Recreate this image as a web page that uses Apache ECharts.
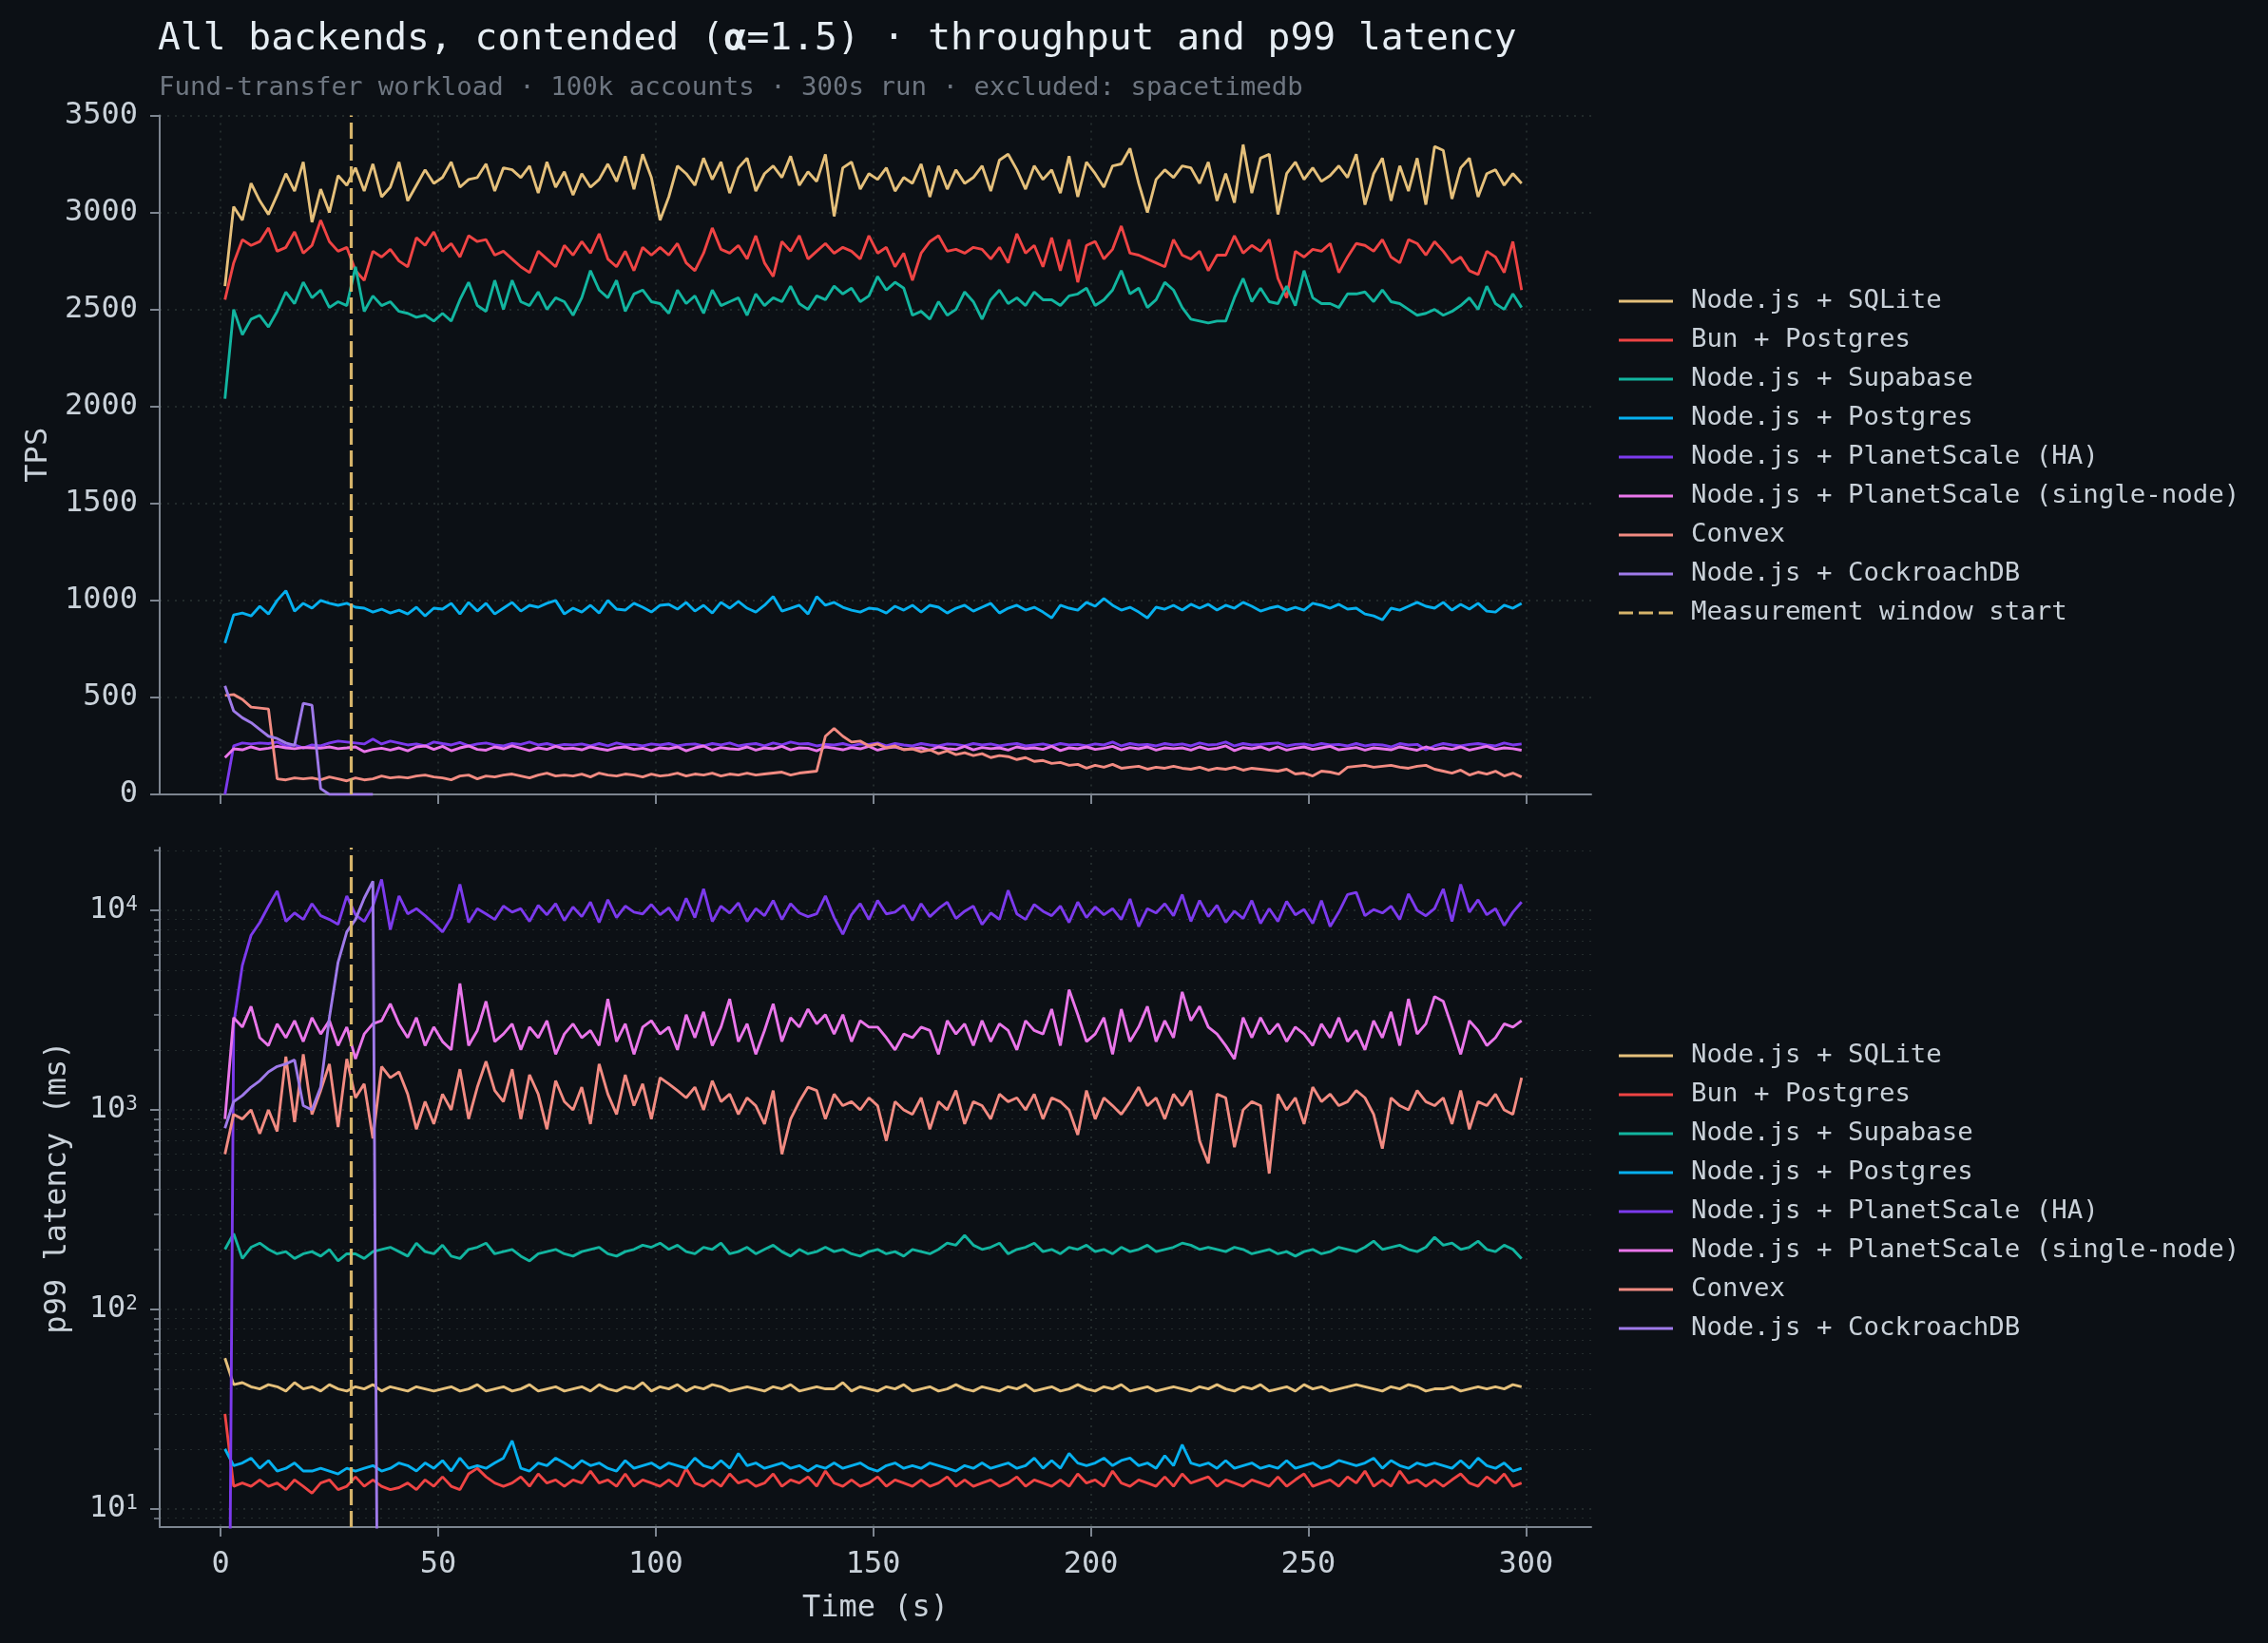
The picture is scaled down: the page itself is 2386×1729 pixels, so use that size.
<!DOCTYPE html>
<html lang="en">
<head>
  <meta charset="UTF-8">
  <title>All backends, contended - throughput and p99 latency</title>
  <script src="https://cdn.jsdelivr.net/npm/echarts@6/dist/echarts.min.js"></script>
  <style>
    html, body { margin: 0; padding: 0; background: #0c1015; }
    #main { width: 2386px; height: 1729px; }
  </style>
</head>
<body>
  <div id="main"></div>

  <script>
    // one sample every 2 s, first sample at t = 1 s
    var sampleStart = 1;
    var sampleStep = 2;
    var windowStart = 30;

    var backends = [
      'Node.js + SQLite',
      'Bun + Postgres',
      'Node.js + Supabase',
      'Node.js + Postgres',
      'Node.js + PlanetScale (HA)',
      'Node.js + PlanetScale (single-node)',
      'Convex',
      'Node.js + CockroachDB'
    ];
    var windowLabel = 'Measurement window start';

    var timeTicks = [0, 50, 100, 150, 200, 250, 300];
    var latencyTicks = [10, 100, 1000, 10000];
    var latencyMinorTicks = [9, 20, 30, 40, 50, 60, 70, 80, 90,
      200, 300, 400, 500, 600, 700, 800, 900,
      2000, 3000, 4000, 5000, 6000, 7000, 8000, 9000, 20000];

    // ---- throughput (TPS) ----
    var tpsSqlite = [
      2620, 3030, 2960, 3150, 3060, 2990, 3090, 3200, 3110, 3260,
      2950, 3120, 3000, 3190, 3140, 3230, 3110, 3250, 3080, 3130,
      3260, 3060, 3140, 3220, 3150, 3180, 3260, 3130, 3170, 3180,
      3250, 3110, 3230, 3220, 3180, 3240, 3100, 3260, 3130, 3210,
      3090, 3200, 3130, 3170, 3250, 3160, 3290, 3120, 3300, 3180,
      2960, 3080, 3240, 3200, 3140, 3280, 3170, 3260, 3100, 3230,
      3280, 3110, 3200, 3240, 3180, 3290, 3140, 3210, 3160, 3300,
      2980, 3230, 3260, 3120, 3200, 3170, 3230, 3110, 3180, 3150,
      3250, 3080, 3240, 3120, 3220, 3150, 3180, 3240, 3110, 3270,
      3300, 3220, 3120, 3240, 3170, 3220, 3100, 3290, 3080, 3260,
      3200, 3130, 3240, 3250, 3330, 3150, 3000, 3170, 3220, 3180,
      3240, 3230, 3150, 3260, 3060, 3200, 3050, 3350, 3100, 3280,
      3300, 2990, 3200, 3260, 3170, 3230, 3160, 3190, 3240, 3180,
      3300, 3040, 3200, 3280, 3060, 3240, 3110, 3280, 3040, 3340,
      3320, 3070, 3230, 3280, 3080, 3200, 3220, 3140, 3200, 3150
    ];
    var tpsBun = [
      2550, 2740, 2860, 2830, 2850, 2920, 2800, 2820, 2900, 2790,
      2830, 2960, 2850, 2800, 2820, 2700, 2650, 2800, 2770, 2810,
      2750, 2720, 2870, 2830, 2900, 2800, 2840, 2770, 2880, 2850,
      2860, 2780, 2800, 2760, 2720, 2690, 2800, 2760, 2720, 2830,
      2780, 2850, 2790, 2890, 2760, 2720, 2800, 2700, 2820, 2780,
      2820, 2780, 2840, 2740, 2700, 2790, 2920, 2810, 2790, 2830,
      2760, 2880, 2740, 2670, 2850, 2800, 2880, 2760, 2800, 2840,
      2790, 2820, 2800, 2760, 2880, 2790, 2820, 2720, 2790, 2650,
      2790, 2850, 2880, 2800, 2810, 2790, 2820, 2810, 2760, 2820,
      2740, 2890, 2790, 2830, 2720, 2870, 2700, 2860, 2640, 2830,
      2850, 2760, 2810, 2930, 2790, 2780, 2760, 2740, 2720, 2860,
      2780, 2760, 2800, 2700, 2780, 2780, 2880, 2790, 2830, 2800,
      2860, 2660, 2560, 2800, 2770, 2810, 2800, 2840, 2690, 2770,
      2840, 2830, 2800, 2860, 2770, 2740, 2860, 2840, 2780, 2850,
      2800, 2740, 2770, 2700, 2680, 2800, 2770, 2690, 2850, 2600
    ];
    var tpsSupabase = [
      2040, 2500, 2370, 2450, 2470, 2410, 2490, 2590, 2530, 2640,
      2560, 2600, 2510, 2540, 2520, 2720, 2490, 2570, 2520, 2540,
      2490, 2480, 2460, 2470, 2440, 2480, 2440, 2550, 2640, 2520,
      2490, 2650, 2500, 2650, 2540, 2520, 2590, 2500, 2560, 2540,
      2470, 2560, 2700, 2600, 2560, 2650, 2490, 2580, 2600, 2540,
      2530, 2480, 2600, 2530, 2570, 2480, 2600, 2520, 2540, 2560,
      2470, 2580, 2520, 2560, 2540, 2620, 2530, 2500, 2570, 2550,
      2620, 2580, 2610, 2540, 2570, 2670, 2600, 2640, 2610, 2470,
      2490, 2450, 2540, 2470, 2500, 2590, 2540, 2450, 2550, 2600,
      2530, 2560, 2520, 2590, 2550, 2550, 2520, 2570, 2580, 2610,
      2520, 2550, 2600, 2700, 2580, 2610, 2510, 2550, 2640, 2600,
      2510, 2450, 2440, 2430, 2440, 2440, 2560, 2660, 2540, 2610,
      2540, 2530, 2620, 2520, 2700, 2560, 2530, 2530, 2510, 2580,
      2580, 2590, 2540, 2600, 2540, 2530, 2500, 2470, 2480, 2500,
      2470, 2490, 2520, 2560, 2500, 2620, 2530, 2500, 2580, 2510
    ];
    var tpsPostgres = [
      780, 925, 935, 920, 970, 930, 1000, 1050, 945, 985,
      960, 1000, 985, 975, 985, 965, 960, 940, 955, 935,
      950, 930, 965, 920, 960, 955, 985, 930, 990, 945,
      985, 930, 960, 990, 945, 975, 965, 985, 1000, 930,
      960, 940, 975, 935, 1000, 955, 950, 985, 965, 940,
      975, 980, 955, 990, 945, 975, 935, 990, 960, 995,
      960, 940, 975, 1020, 945, 960, 975, 930, 1020, 975,
      990, 965, 950, 940, 960, 955, 935, 970, 950, 975,
      940, 975, 965, 935, 960, 975, 945, 965, 985, 935,
      960, 975, 950, 965, 940, 910, 975, 960, 950, 990,
      970, 1010, 975, 950, 965, 940, 910, 965, 955, 975,
      950, 980, 960, 980, 950, 975, 960, 990, 970, 945,
      960, 970, 950, 965, 950, 985, 975, 960, 980, 955,
      960, 930, 920, 900, 960, 950, 970, 990, 970, 960,
      990, 950, 980, 955, 985, 945, 940, 975, 960, 985
    ];
    var tpsPlanetHa = [
      0, 250, 265, 260, 265, 262, 270, 250, 255, 240,
      255, 250, 265, 275, 270, 265, 260, 285, 260, 275,
      265, 255, 260, 250, 270, 262, 255, 268, 250, 260,
      265, 255, 250, 262, 258, 270, 255, 262, 250, 258,
      255, 260, 250, 262, 250, 265, 255, 258, 250, 260,
      255, 262, 250, 258, 260, 250, 262, 255, 265, 250,
      258, 262, 250, 265, 255, 270, 260, 262, 250, 258,
      255, 262, 250, 260, 258, 265, 250, 262, 255, 250,
      262, 255, 250, 260, 258, 250, 262, 255, 260, 250,
      258, 262, 250, 255, 260, 250, 262, 255, 258, 250,
      260, 255, 270, 250, 262, 255, 258, 250, 262, 255,
      260, 250, 265, 255, 258, 270, 250, 262, 255, 258,
      262, 265, 250, 258, 260, 252, 262, 255, 258, 250,
      262, 250, 258, 255, 245, 262, 255, 258, 230, 250,
      262, 255, 250, 258, 262, 255, 250, 265, 255, 260
    ];
    var tpsPlanetSingle = [
      190, 235, 230, 245, 232, 238, 248, 240, 236, 242,
      240, 238, 245, 236, 240, 245, 220, 232, 238, 228,
      240, 225, 245, 250, 232, 248, 225, 240, 250, 232,
      228, 245, 235, 250, 238, 226, 240, 232, 248, 235,
      238, 230, 245, 235, 228, 240, 245, 232, 238, 226,
      240, 235, 245, 225, 240, 250, 228, 242, 235, 232,
      245, 228, 240, 235, 248, 230, 240, 238, 225, 245,
      238, 230, 242, 235, 248, 228, 240, 245, 232, 236,
      240, 228, 245, 235, 232, 248, 230, 242, 236, 240,
      228, 245, 236, 240, 232, 248, 226, 240, 235, 245,
      232, 238, 248, 230, 242, 235, 245, 228, 240, 236,
      240, 228, 245, 232, 238, 250, 226, 242, 235, 245,
      230, 245, 228, 238, 245, 232, 240, 248, 230, 236,
      242, 228, 240, 235, 230, 245, 236, 228, 245, 232,
      240, 232, 245, 228, 238, 248, 232, 240, 236, 228
    ];
    var tpsConvex = [
      510, 515, 490, 450, 445, 440, 80, 75, 85, 80,
      85, 75, 90, 80, 70, 85, 75, 80, 95, 85,
      90, 85, 95, 100, 90, 85, 75, 95, 100, 80,
      95, 90, 100, 105, 95, 85, 100, 110, 95, 100,
      95, 105, 90, 110, 100, 95, 105, 100, 90, 105,
      95, 100, 110, 95, 105, 100, 110, 95, 105, 100,
      110, 100, 105, 110, 115, 100, 110, 115, 120, 300,
      340, 300, 270, 275, 250, 260, 240, 250, 230, 235,
      220, 230, 210, 225, 205, 215, 200, 210, 190, 200,
      195, 180, 190, 170, 175, 160, 165, 150, 155, 135,
      150, 140, 155, 135, 140, 145, 130, 140, 135, 145,
      135, 130, 140, 125, 135, 130, 140, 125, 135, 130,
      125, 120, 130, 105, 110, 95, 120, 115, 105, 140,
      145, 150, 140, 145, 150, 140, 135, 145, 150, 130,
      120, 110, 125, 100, 115, 105, 120, 95, 110, 90
    ];
    var tpsCockroach = [
      560, 430, 395, 370, 335, 300, 288, 265, 253, 470,
      460, 30, 0, 0, 0, 0, 0, 0
    ];

    // ---- p99 latency (ms) ----
    var latSqlite = [
      57, 42, 43, 41, 40, 42, 41, 39, 43, 40,
      41, 39, 42, 40, 39, 41, 40, 42, 39, 41,
      40, 39, 41, 40, 39, 40, 41, 39, 40, 42,
      39, 40, 41, 39, 40, 42, 39, 40, 41, 39,
      40, 41, 39, 42, 40, 39, 41, 40, 43, 39,
      41, 40, 42, 39, 41, 40, 42, 41, 39, 40,
      41, 40, 39, 41, 40, 42, 39, 40, 41, 40,
      40, 43, 39, 41, 40, 39, 41, 40, 42, 39,
      40, 41, 39, 40, 42, 40, 39, 41, 40, 39,
      41, 40, 42, 39, 40, 41, 39, 40, 42, 40,
      39, 41, 40, 42, 39, 40, 41, 39, 40, 41,
      40, 39, 41, 40, 42, 40, 39, 41, 40, 42,
      39, 40, 41, 39, 42, 40, 41, 39, 40, 41,
      42, 41, 40, 39, 41, 40, 42, 41, 39, 40,
      40, 41, 39, 40, 41, 40, 41, 40, 42, 41
    ];
    var latBun = [
      30, 13, 13.5, 13, 14, 13, 13.5, 12.5, 14, 13,
      12, 13.5, 14, 12.5, 13, 14.5, 13, 14, 13, 12.5,
      12.8, 13.5, 12.5, 14, 13, 14.5, 13, 12.5, 15, 16,
      14.5, 13.5, 13, 13.5, 14.5, 13, 15, 13.5, 14, 13,
      14, 13.5, 15.5, 13.5, 14, 13, 15, 13, 14, 13.5,
      13, 14, 13, 16, 13.5, 13, 14, 13, 15, 13.5,
      14, 13, 13.5, 15, 13, 14, 13.5, 14.5, 13, 15.5,
      13.5, 13, 14, 13, 13.5, 14.5, 13, 14, 13.5, 13,
      14, 13, 13.5, 14.5, 13, 14, 13, 13.5, 14, 13,
      13.5, 14.5, 13, 14, 13.5, 13, 14, 13, 15, 13.5,
      14, 13, 15.5, 13.5, 13, 14, 13.5, 13, 14.5, 13,
      15, 13.5, 14, 14.5, 13, 14, 13.5, 13, 14, 13.5,
      13, 14.5, 13, 14, 15, 13, 13.5, 14, 13, 14.5,
      13.5, 15.5, 13, 14, 13, 15.5, 13.5, 14, 13, 14,
      13, 14, 15, 13.5, 13, 14.5, 13.5, 15, 13, 13.5
    ];
    var latSupabase = [
      200, 240, 180, 205, 215, 200, 190, 195, 180, 190,
      195, 185, 200, 175, 190, 190, 180, 195, 200, 205,
      195, 185, 215, 195, 190, 210, 185, 180, 200, 205,
      215, 190, 195, 200, 185, 175, 190, 195, 200, 190,
      185, 195, 200, 205, 190, 185, 195, 200, 210, 205,
      215, 200, 210, 195, 190, 205, 200, 215, 190, 195,
      205, 190, 200, 210, 195, 185, 200, 190, 195, 205,
      195, 200, 190, 185, 195, 200, 190, 195, 185, 200,
      195, 190, 200, 215, 210, 235, 210, 200, 205, 215,
      190, 200, 205, 215, 195, 200, 190, 205, 200, 210,
      195, 200, 190, 205, 195, 200, 210, 195, 200, 205,
      215, 210, 200, 205, 200, 195, 205, 200, 190, 195,
      200, 190, 195, 185, 195, 200, 190, 195, 205, 200,
      195, 205, 220, 200, 205, 210, 200, 195, 205, 230,
      210, 215, 200, 205, 220, 200, 195, 210, 200, 180
    ];
    var latPostgres = [
      20, 16.5, 17, 18, 16, 17.5, 15.5, 16, 17, 15.5,
      15.5, 16, 15.5, 15, 16, 15.5, 16, 16.5, 15.5, 16,
      17, 16.5, 15.5, 17, 16, 17.5, 15.5, 18, 16, 16.5,
      16, 17, 18, 22, 16, 15.5, 17, 16.5, 18, 17,
      16, 17.5, 16.5, 17, 16, 15.5, 17.5, 16, 16.5, 17,
      16, 17, 16.5, 16, 18, 16.5, 16, 17.5, 16, 19,
      16.5, 17, 16, 16.5, 17, 16, 16.5, 15.5, 16.5, 16,
      17, 16, 16.5, 17, 16, 15.5, 16.5, 17, 16, 16.5,
      16, 17, 16.5, 16, 15.5, 16.5, 16, 17, 16, 16.5,
      17, 16, 16.5, 18, 16, 17.5, 16, 19, 17, 16.5,
      17, 18, 16.5, 17.5, 18, 16.5, 17, 16, 18.5, 16.5,
      21, 17, 16.5, 17, 16, 17.5, 16, 16.5, 17, 16,
      16.5, 16, 17.5, 16, 16.5, 17, 16, 16.5, 17.5, 17,
      16.5, 17, 18, 16, 17.5, 16.5, 16, 17, 16.5, 17,
      16.5, 16, 17.5, 16, 18, 16.5, 16, 17, 15.5, 16
    ];
    var latPlanetHa = [
      0, 2700, 5300, 7500, 8700, 10500, 12500, 8800, 9700, 9000,
      10800, 9400, 9000, 8500, 11800, 9500, 8800, 10500, 14300, 8000,
      11800, 9600, 10200, 9400, 8600, 7800, 9200, 13500, 8700, 10200,
      9600, 9000, 10500, 9800, 10200, 8800, 10600, 9500, 10800, 8900,
      10400, 9300, 11000, 8700, 11300, 9200, 10500, 9800, 9600, 10700,
      9500, 10300, 8900, 11500, 9200, 12800, 8800, 10500, 9700, 10900,
      8800, 10200, 9400, 11200, 9000, 10800, 9700, 9300, 9600, 11800,
      9200, 7600, 9500, 10800, 9000, 11200, 9600, 9800, 10600, 8900,
      10800, 9300, 10200, 11000, 9100, 9900, 10500, 8500, 9700, 9000,
      12600, 9600, 9000, 10700, 9900, 9400, 10500, 8700, 11000, 9200,
      10400, 9500, 10200, 9000, 11400, 8300, 10200, 9700, 10800, 9400,
      12000, 8800, 11200, 9300, 10600, 8700, 9900, 9100, 11200, 8600,
      10200, 8800, 11100, 9500, 10100, 8600, 11200, 8300, 9800, 12000,
      12300, 9400, 10100, 9700, 10500, 9000, 12100, 10000, 9400, 10200,
      12800, 8800, 13500, 9800, 11300, 9500, 10200, 8400, 9800, 11000
    ];
    var latPlanetSingle = [
      900, 2900, 2600, 3300, 2300, 2100, 2700, 2300, 2800, 2200,
      2900, 2400, 2800, 2100, 2600, 1800, 2400, 2700, 2800, 3400,
      2700, 2300, 2900, 2100, 2600, 2200, 2000, 4300, 2100, 2500,
      3500, 2200, 2400, 2700, 2000, 2600, 2300, 2800, 1900, 2400,
      2700, 2300, 2500, 2100, 3600, 2200, 2700, 1900, 2600, 2800,
      2400, 2600, 2000, 3000, 2300, 3100, 2100, 2600, 3600, 2200,
      2700, 1900, 2500, 3400, 2200, 2900, 2600, 3200, 2700, 3000,
      2400, 3000, 2200, 2800, 2600, 2600, 2300, 2000, 2400, 2300,
      2600, 2500, 1900, 2800, 2400, 2700, 2100, 2800, 2200, 2700,
      2500, 2000, 2800, 2500, 2400, 3200, 2100, 4000, 3000, 2200,
      2400, 2900, 1900, 3200, 2200, 2600, 3300, 2200, 2800, 2300,
      3900, 2800, 3300, 2600, 2400, 2100, 1800, 2900, 2300, 2900,
      2400, 2700, 2200, 2600, 2400, 2100, 2700, 2300, 2900, 2200,
      2500, 2000, 2800, 2300, 3100, 2100, 3600, 2400, 2700, 3700,
      3500, 2600, 1900, 2800, 2500, 2100, 2300, 2700, 2600, 2800
    ];
    var latConvex = [
      600, 950, 900, 1000, 760, 1000, 780, 1850, 870, 1900,
      950, 1250, 1700, 820, 1800, 1150, 1350, 720, 1650, 1450,
      1550, 1200, 800, 1100, 850, 1200, 1000, 1600, 900, 1300,
      1750, 1250, 1100, 1600, 900, 1500, 1200, 800, 1400, 1100,
      1000, 1300, 850, 1700, 1200, 950, 1500, 1050, 1350, 900,
      1450, 1350, 1250, 1150, 1300, 1000, 1400, 1100, 1200, 950,
      1150, 1050, 850, 1250, 600, 900, 1100, 1300, 1250, 900,
      1200, 1050, 1100, 1000, 1150, 1050, 700, 1100, 1000, 950,
      1150, 800, 1100, 1000, 1250, 850, 1100, 1050, 900, 1200,
      1100, 1150, 1000, 1200, 900, 1150, 1100, 1000, 750, 1250,
      900, 1150, 1050, 950, 1100, 1300, 1050, 1150, 900, 1200,
      1050, 1250, 700, 540, 1200, 1150, 650, 1000, 1100, 1050,
      480, 1200, 1000, 1150, 850, 1300, 1100, 1200, 1050, 1100,
      1250, 1150, 950, 640, 1150, 1050, 1000, 1250, 1100, 1050,
      1150, 850, 1250, 800, 1100, 1050, 1200, 1000, 950, 1450
    ];
    var latCockroach = [
      810, 1100, 1180, 1300, 1400, 1550, 1650, 1700, 1780, 1050,
      1000, 1300, 2900, 5500, 7800, 9000, 11500, 14000, 0
    ];

    var tpsSeriesData = [tpsSqlite, tpsBun, tpsSupabase, tpsPostgres,
      tpsPlanetHa, tpsPlanetSingle, tpsConvex, tpsCockroach];
    var latSeriesData = [latSqlite, latBun, latSupabase, latPostgres,
      latPlanetHa, latPlanetSingle, latConvex, latCockroach];

    // ---- styling ----
    var colors = ['#e5c07b', '#ef4444', '#12b5a0', '#06b0ef',
      '#7c3aed', '#ea76ea', '#f28b82', '#9f7aea'];
    var windowColor = '#d6b46a';
    var mono = 'DejaVu Sans Mono';
    var axisColor = '#7d8590';
    var labelColor = '#c9d1d9';
    var gridColor = '#2a3333';
    var lineWidth = 2.9;
    var dashIcon = 'path://M0,0H15V3H0Z M21,0H36V3H21Z M42,0H57V3H42Z';

    function toPairs(values, floor) {
      return values.map(function (v, i) {
        // zero latency cannot sit on a log axis: push it far below the visible range
        if (floor && v <= 0) v = floor;
        return [sampleStart + i * sampleStep, v];
      });
    }

    var myChart = echarts.init(document.getElementById('main'));

    var series = [];
    backends.forEach(function (name, k) {
      series.push({
        name: name, type: 'line', xAxisIndex: 0, yAxisIndex: 0,
        data: toPairs(tpsSeriesData[k]),
        symbol: 'none', clip: true,
        lineStyle: { width: lineWidth, color: colors[k] },
        itemStyle: { color: colors[k] },
        emphasis: { disabled: true }
      });
    });
    backends.forEach(function (name, k) {
      series.push({
        name: name, type: 'line', xAxisIndex: 1, yAxisIndex: 1,
        data: toPairs(latSeriesData[k], 1e-3),
        symbol: 'none', clip: true,
        lineStyle: { width: lineWidth, color: colors[k] },
        itemStyle: { color: colors[k] },
        emphasis: { disabled: true }
      });
    });
    [0, 1].forEach(function (g) {
      series.push({
        name: windowLabel, type: 'line', xAxisIndex: g, yAxisIndex: g,
        data: [], symbol: 'none',
        lineStyle: { width: 3, color: windowColor, type: [13, 7] },
        itemStyle: { color: windowColor },
        markLine: {
          silent: true, symbol: ['none', 'none'], label: { show: false },
          lineStyle: { color: windowColor, type: [17, 6], width: 3.2 },
          data: [{ xAxis: windowStart }]
        },
        z: 5
      });
    });

    var dotted = { color: gridColor, type: [2, 6], width: 1.6 };
    var tickFont = { fontFamily: mono, fontSize: 32, color: labelColor };
    var nameFont = { fontFamily: mono, fontSize: 32, color: labelColor };

    function timeAxis(grid, showLabels) {
      return {
        gridIndex: grid, type: 'value', min: -14, max: 315,
        axisLine: { onZero: false, lineStyle: { color: axisColor, width: 2 } },
        axisTick: { customValues: timeTicks, length: 10, lineStyle: { color: axisColor, width: 2 } },
        axisLabel: Object.assign({ show: showLabels, customValues: timeTicks, margin: 24 }, tickFont),
        splitLine: { show: true, lineStyle: dotted }
      };
    }

    var legendText = {
      color: labelColor, fontFamily: mono, fontSize: 27.4, lineHeight: 30,
      padding: [0, 0, 0, 14]
    };
    var legendItems = backends.map(function (n) { return { name: n, icon: 'rect' }; });

    option = {
      backgroundColor: '#0c1015',
      animation: false,
      title: [
        {
          text: 'All backends, contended ({a|α}=1.5) · throughput and p99 latency',
          left: 166, top: 22, padding: 0,
          textStyle: {
            fontFamily: mono, fontSize: 39.6, fontWeight: 'normal', color: '#e6edf3',
            rich: { a: { fontFamily: mono, fontSize: 39.6, fontWeight: 'bold', color: '#e6edf3' } }
          }
        },
        {
          text: 'Fund-transfer workload · 100k accounts · 300s run · excluded: spacetimedb',
          left: 167, top: 79, padding: 0,
          textStyle: { fontFamily: mono, fontSize: 27.4, fontWeight: 'normal', color: '#6e7681' }
        }
      ],
      legend: [
        {
          data: legendItems.concat([{ name: windowLabel, icon: dashIcon }]), orient: 'vertical',
          left: 1698, top: 297, itemWidth: 57, itemHeight: 3, itemGap: 11,
          selectedMode: false, textStyle: legendText
        },
        {
          data: legendItems, orient: 'vertical',
          left: 1698, top: 1091, itemWidth: 57, itemHeight: 3, itemGap: 11,
          selectedMode: false, textStyle: legendText
        }
      ],
      grid: [
        { left: 168, top: 121.5, width: 1506, height: 714.5 },
        { left: 168, top: 892, width: 1506, height: 715 }
      ],
      xAxis: [
        timeAxis(0, false),
        Object.assign(timeAxis(1, true), {
          name: 'Time (s)', nameLocation: 'middle', nameGap: 70, nameTextStyle: nameFont
        })
      ],
      yAxis: [
        {
          gridIndex: 0, type: 'value', min: 0, max: 3500, interval: 500,
          axisLine: { show: true, onZero: false, lineStyle: { color: axisColor, width: 2 } },
          axisTick: { show: true, length: 10, lineStyle: { color: axisColor, width: 2 } },
          axisLabel: Object.assign({ margin: 23, formatter: function (v) { return String(v); } }, tickFont),
          splitLine: { show: true, lineStyle: dotted },
          name: 'TPS', nameLocation: 'middle', nameGap: 106, nameTextStyle: nameFont
        },
        {
          gridIndex: 1, type: 'log', logBase: 10, min: 8.12, max: 20620,
          axisLine: { show: true, onZero: false, lineStyle: { color: axisColor, width: 2 } },
          axisTick: { show: true, customValues: latencyTicks, length: 10, lineStyle: { color: axisColor, width: 2 } },
          axisLabel: Object.assign({
            customValues: latencyTicks, margin: 23,
            formatter: function (v) { return '10{e|' + Math.round(Math.log10(v)) + '}'; },
            rich: { e: { fontFamily: mono, fontSize: 21, color: labelColor, verticalAlign: 'top', lineHeight: 20 } }
          }, tickFont),
          splitLine: { show: true, lineStyle: dotted },
          name: 'p99 latency (ms)', nameLocation: 'middle', nameGap: 91, nameTextStyle: nameFont
        },
        {
          // minor decades on the latency axis
          gridIndex: 1, type: 'log', logBase: 10, min: 8.12, max: 20620, position: 'left',
          axisLine: { show: false, onZero: false },
          axisTick: { show: true, customValues: latencyMinorTicks, length: 6, lineStyle: { color: axisColor, width: 1.5 } },
          axisLabel: { show: false },
          splitLine: { show: true, lineStyle: { color: gridColor, type: [2, 6], width: 1.2, opacity: 0.8 } }
        }
      ],
      series: series
    };

    myChart.setOption(option);
  </script>
</body>
</html>
